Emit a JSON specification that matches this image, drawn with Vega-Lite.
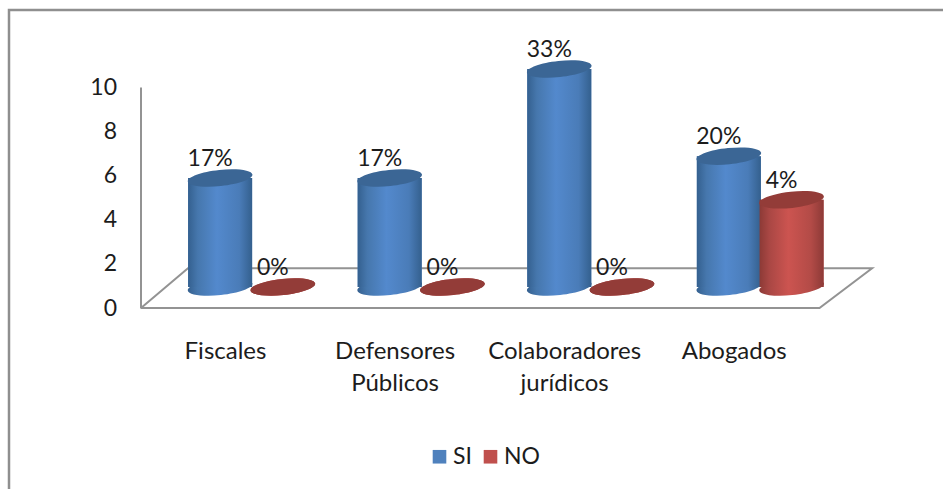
{
"$schema":"https://vega.github.io/schema/vega-lite/v6.json",
"width":945,"height":490,
"autosize":"none",
"padding":{"left":9,"top":10,"right":0,"bottom":0},
"background":"white",
"config":{"font":"Lato","view":{"stroke":"#8f8f8f","strokeWidth":2.5},"text":{"font":"Lato"}},
"datasets":{
"barras":[
{"categoria":"Fiscales","serie":"SI","valor":5,"etiqueta":"17%"},
{"categoria":"Fiscales","serie":"NO","valor":0,"etiqueta":"0%"},
{"categoria":"Defensores Públicos","serie":"SI","valor":5,"etiqueta":"17%"},
{"categoria":"Defensores Públicos","serie":"NO","valor":0,"etiqueta":"0%"},
{"categoria":"Colaboradores jurídicos","serie":"SI","valor":10,"etiqueta":"33%"},
{"categoria":"Colaboradores jurídicos","serie":"NO","valor":0,"etiqueta":"0%"},
{"categoria":"Abogados","serie":"SI","valor":6,"etiqueta":"20%"},
{"categoria":"Abogados","serie":"NO","valor":4,"etiqueta":"4%"}
],
"suelo":[
{"orden":1,"px":0,"py":0},
{"orden":2,"px":0.277,"py":1.8},
{"orden":3,"px":4.31,"py":1.8},
{"orden":4,"px":4,"py":0},
{"orden":5,"px":0,"py":0}
]},
"resolve":{"scale":{"x":"independent","y":"independent"},"axis":{"x":"independent","y":"independent"}},
"layer":[
{"data":{"name":"suelo"},
 "mark":{"type":"line","color":"#939393","strokeWidth":2,"clip":false},
 "encoding":{
  "x":{"field":"px","type":"quantitative","axis":null,"scale":{"domain":[0,4],"range":[132,810.5],"nice":false,"zero":false}},
  "y":{"field":"py","type":"quantitative","scale":{"domain":[0,10],"range":[298,77],"nice":false},
   "axis":{"title":null,"values":[0,2,4,6,8,10],"offset":-131.5,"ticks":false,"grid":false,"domainColor":"#939393","domainWidth":2,"labelPadding":24,"labelFontSize":23,"labelColor":"#1c1c1c","labelFont":"Lato"}},
  "order":{"field":"orden","type":"quantitative"}
 }},
{"data":{"name":"barras"},
 "encoding":{
  "x":{"field":"categoria","type":"nominal","sort":["Fiscales","Defensores Públicos","Colaboradores jurídicos","Abogados"],
   "scale":{"domain":["Fiscales","Defensores Públicos","Colaboradores jurídicos","Abogados"],"range":[157.7,836],"paddingInner":0.26,"paddingOuter":0.13},
   "axis":{"title":null,"orient":"bottom","offset":-161,"domain":false,"ticks":false,"labelAngle":0,"labelPadding":0,"labelOffset":-26,"labelFontSize":24,"labelColor":"#1c1c1c","labelFont":"Lato","labelLineHeight":32,"labelBaseline":"top","labelOverlap":false,"labelBound":false,"labelExpr":"split(datum.label,' ')"}},
  "xOffset":{"field":"serie","type":"nominal","sort":["SI","NO"],"scale":{"domain":["SI","NO"]}},
  "y":{"field":"valor","type":"quantitative","stack":null,"axis":null,"scale":{"domain":[0,10],"range":[277,59],"nice":false}}
 },
 "layer":[
  {"mark":{"type":"bar","width":64},
   "encoding":{"color":{"field":"serie","type":"nominal","sort":["SI","NO"],"scale":{"domain":["SI","NO"],"range":["#4F81BD","#C0504D"]},
    "legend":{"title":null,"orient":"none","legendX":419,"legendY":435,"direction":"horizontal","columns":2,"padding":0,"symbolType":"square","symbolSize":185,"symbolStrokeWidth":0,"labelFontSize":23,"labelColor":"#1c1c1c","labelFont":"Lato","columnPadding":7,"labelOffset":2}}}},
  {"transform":[{"filter":"datum.serie==='SI'"}],
   "mark":{"type":"point","filled":true,"opacity":1,"size":4225,"angle":-6,"strokeWidth":0,"shape":"M-1,0A1,0.25,0,1,1,1,0A1,0.25,0,1,1,-1,0Z",
    "fill":{"gradient":"linear","x1":0,"x2":1,"y1":0,"y2":0,"stops":[{"offset":0,"color":"#34608f"},{"offset":0.15,"color":"#4677ad"},{"offset":0.45,"color":"#5389cd"},{"offset":0.8,"color":"#4a7cb8"},{"offset":1,"color":"#34608e"}]}},
   "encoding":{"y":{"datum":0,"type":"quantitative"}}},
  {"transform":[{"filter":"datum.serie==='SI'"}],
   "mark":{"type":"bar","width":64,
    "fill":{"gradient":"linear","x1":0,"x2":1,"y1":0,"y2":0,"stops":[{"offset":0,"color":"#34608f"},{"offset":0.15,"color":"#4677ad"},{"offset":0.45,"color":"#5389cd"},{"offset":0.8,"color":"#4a7cb8"},{"offset":1,"color":"#34608e"}]}}},
  {"transform":[{"filter":"datum.serie==='SI'"}],
   "mark":{"type":"point","filled":true,"opacity":1,"size":4225,"angle":-6,"strokeWidth":0,"fill":"#3b6695","shape":"M-1,0A1,0.25,0,1,1,1,0A1,0.25,0,1,1,-1,0Z"}},
  {"transform":[{"filter":"datum.serie==='NO'"}],
   "mark":{"type":"point","filled":true,"opacity":1,"size":4225,"angle":-6,"strokeWidth":0,"shape":"M-1,0A1,0.25,0,1,1,1,0A1,0.25,0,1,1,-1,0Z",
    "fill":{"gradient":"linear","x1":0,"x2":1,"y1":0,"y2":0,"stops":[{"offset":0,"color":"#8c3a36"},{"offset":0.15,"color":"#a94744"},{"offset":0.45,"color":"#cc5450"},{"offset":0.8,"color":"#b34b47"},{"offset":1,"color":"#8d3a37"}]}},
   "encoding":{"y":{"datum":0,"type":"quantitative"}}},
  {"transform":[{"filter":"datum.serie==='NO'"}],
   "mark":{"type":"bar","width":64,
    "fill":{"gradient":"linear","x1":0,"x2":1,"y1":0,"y2":0,"stops":[{"offset":0,"color":"#8c3a36"},{"offset":0.15,"color":"#a94744"},{"offset":0.45,"color":"#cc5450"},{"offset":0.8,"color":"#b34b47"},{"offset":1,"color":"#8d3a37"}]}}},
  {"transform":[{"filter":"datum.serie==='NO'"}],
   "mark":{"type":"point","filled":true,"opacity":1,"size":4225,"angle":-6,"strokeWidth":0,"fill":"#933c38","shape":"M-1,0A1,0.25,0,1,1,1,0A1,0.25,0,1,1,-1,0Z"}},
  {"mark":{"type":"text","font":"Lato","fontSize":23,"color":"#1c1c1c","align":"center","baseline":"middle","dx":-10,"dy":-19},
   "encoding":{"text":{"field":"etiqueta","type":"nominal"}}}
 ]}
]
}
